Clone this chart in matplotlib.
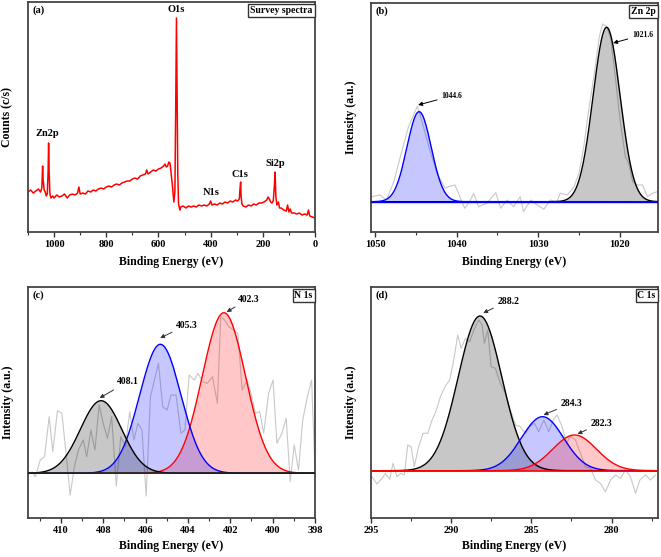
import numpy as np
import matplotlib
matplotlib.use("Agg")
import matplotlib.pyplot as plt
from matplotlib.ticker import MultipleLocator

plt.rcParams["font.family"] = ["Liberation Serif", "DejaVu Serif"]
plt.rcParams["font.weight"] = "bold"

# (a) survey spectrum, binding energy (eV) and counts (arb. units)
survey_be = [1100, 1090, 1080, 1070, 1060, 1052, 1047, 1044, 1042, 1038, 1034, 1030,
             1026, 1023, 1021, 1019, 1016, 1012, 1005, 1000, 990, 980, 970, 960, 950,
             940, 930, 920, 910, 905, 900, 890, 880, 870, 860, 850, 840, 830, 820, 810,
             800, 790, 780, 770, 760, 750, 740, 730, 720, 710, 700, 690, 680, 670, 660,
             650, 645, 640, 630, 620, 610, 600, 590, 580, 575, 570, 565, 560, 556, 552,
             546, 541, 537, 534, 531, 529, 526, 523, 518, 515, 505, 495, 485, 475, 465,
             455, 445, 435, 425, 415, 405, 400, 395, 385, 375, 365, 355, 345, 335, 325,
             315, 305, 297, 290, 287, 285, 283, 280, 275, 265, 255, 245, 235, 225, 215,
             205, 195, 185, 180, 175, 170, 165, 160, 156, 153, 150, 146, 140, 136, 130,
             120, 110, 105, 100, 95, 90, 80, 70, 60, 50, 40, 30, 25, 20, 10, 0]
survey_counts = [40, 42, 39, 41, 43, 40, 44, 66, 52, 42, 40, 36,
                 38, 60, 89, 60, 38, 34, 36, 34, 37, 35, 36, 38, 34,
                 37, 38, 37, 39, 45, 38, 39, 38, 41, 40, 42, 41, 43, 44, 43,
                 45, 46, 45, 47, 48, 47, 49, 50, 51, 51, 53, 54, 53, 56, 57,
                 58, 62, 58, 60, 62, 61, 63, 64, 66, 68, 65, 66, 70, 69, 60,
                 45, 30, 40, 120, 214, 150, 60, 28, 22, 25, 26, 24, 26, 25, 26,
                 25, 27, 26, 27, 26, 28, 31, 27, 28, 27, 29, 28, 30, 29, 31,
                 30, 32, 31, 33, 45, 50, 35, 28, 26, 25, 27, 26, 28, 27, 29,
                 29, 30, 32, 35, 33, 30, 29, 31, 45, 60, 35, 27, 30, 24, 24,
                 22, 21, 27, 20, 23, 19, 19, 18, 19, 17, 18, 17, 22, 16, 15, 14]
survey_labels = ["O1s", "Zn2p", "N1s", "C1s", "Si2p"]
survey_label_be = [531, 1027, 399, 287, 153]
survey_label_y = [222, 99, 39, 57, 68]

# (b) Zn 2p
zn_be = [1050.4, 1049.4, 1048.6, 1047.7, 1046.9, 1045.9, 1044.8, 1043.9, 1043.3, 1042.4,
         1041.4, 1041.0, 1040.2, 1039.6, 1039.0, 1038.3, 1037.9, 1037.3, 1036.3, 1035.2,
         1034.6, 1033.8, 1033.0, 1032.2, 1031.8, 1030.9, 1030.1, 1029.3, 1028.5, 1027.7,
         1027.3, 1026.4, 1025.6, 1025.0, 1024.4, 1023.8, 1023.1, 1022.5, 1022.1, 1021.6,
         1021.1, 1020.5, 1019.9, 1019.3, 1018.9, 1018.4, 1017.8, 1017.2, 1016.6, 1016.0,
         1015.4]
zn_raw = [35.3, 37, 32, 50.3, 75.3, 105.3, 126, 100.3, 82, 58.7,
          43.7, 45.3, 47, 35.3, 23.7, 32, 38.7, 25.3, 28.7, 39.3,
          23.7, 32, 25.3, 35.3, 20.3, 32, 27, 22.7, 32, 30.3,
          38.7, 37, 45.3, 58.7, 85.3, 122, 158.7, 195.3, 208, 205.3,
          193.7, 152, 108.7, 75.3, 68.7, 50.3, 47, 47, 35.3, 38.7,
          40.3]
zn_base = 30.3
zn_centers = [1021.6, 1044.6]
zn_heights = [174.4, 90]
zn_fwhm = [3.9, 3.5]
zn_colors = ["black", "blue"]

# (c) N 1s
n_be = [411.36, 411.2, 410.97, 410.77, 410.55, 410.38, 410.16, 409.95, 409.77, 409.56,
        409.36, 409.17, 408.94, 408.78, 408.58, 408.39, 408.19, 408.0, 407.8, 407.6,
        407.38, 407.17, 406.95, 406.75, 406.55, 406.36, 406.17, 405.97, 405.77, 405.58,
        405.39, 405.19, 404.98, 404.8, 404.56, 404.33, 404.14, 403.94, 403.7, 403.52,
        403.31, 403.08, 402.84, 402.61, 402.45, 402.27, 402.06, 401.86, 401.64, 401.44,
        401.2, 401.02, 400.81, 400.61, 400.42, 400.19, 399.98, 399.8, 399.56, 399.36,
        399.17, 398.98, 398.78, 398.58, 398.36, 398.16, 398.0]
n_raw = [46.3, 41.3, 58, 61.3, 101.3, 66.3, 107.3, 104.7, 68, 23,
         51.3, 68, 78, 61.3, 88, 68, 113, 94.7, 79.7, 101.3,
         32, 81.3, 71.3, 106.3, 78, 94.7, 88, 22, 121.3, 138,
         154.7, 111.3, 108, 123, 123, 84.7, 88, 143, 138, 144.7,
         136.3, 134.7, 141.3, 114.7, 201.3, 198, 191.3, 188, 184.7, 128,
         138, 124.7, 104.7, 106.3, 84.7, 124.7, 138, 74.7, 84.7, 99.7,
         36.3, 73, 48, 98, 121.3, 138, 48]
n_base = 44.7
n_centers = [402.3, 405.3, 408.1]
n_heights = [160.6, 129, 72.6]
n_fwhm = [2.4, 2.3, 2.3]
n_colors = ["red", "blue", "black"]

# (d) C 1s
c_be = [294.94, 294.63, 294.31, 294.1, 293.83, 293.63, 293.38, 293.13, 292.92, 292.71,
        292.5, 292.3, 292.03, 291.75, 291.46, 291.19, 290.92, 290.67, 290.36, 290.09,
        289.84, 289.59, 289.38, 289.11, 288.84, 288.59, 288.28, 288.07, 287.93, 287.72,
        287.51, 287.24, 286.93, 286.62, 286.3, 285.99, 285.68, 285.37, 285.1, 284.81,
        284.54, 284.22, 283.91, 283.64, 283.39, 283.08, 282.81, 282.56, 282.25, 281.94,
        281.62, 281.31, 281.0, 280.69, 280.38, 280.06, 279.75, 279.44, 279.13, 278.82,
        278.5, 278.23, 277.88, 277.57, 277.26]
c_raw = [41.3, 34, 39.7, 44.7, 38.7, 54.7, 41.3, 44.7, 43, 73,
         71.3, 51.3, 71.3, 84.7, 84.7, 98, 108, 121.3, 132, 138,
         158, 183, 169.7, 179.7, 176.3, 188, 198, 193, 174.7, 188,
         151.3, 149.7, 134.7, 124.7, 108, 93, 91.3, 84.7, 91.3, 94.7,
         86.3, 98, 86.3, 98, 103, 91.3, 74.7, 82, 78, 64.7,
         51.3, 49.7, 38, 34.7, 26.3, 38, 43, 39.7, 48, 41.3,
         24.7, 38, 43, 38, 43]
c_base = 47.3
c_centers = [288.2, 284.3, 282.3]
c_heights = [154.7, 54, 35.7]
c_fwhm = [3.2, 3.1, 3.2]
c_colors = ["black", "blue", "red"]


def gauss(x, center, height, fwhm):
    """
    :param x: array of binding energies
    :return: gaussian peak with the given centre, height and width
    """
    sigma = fwhm / 2.3548
    return height * np.exp(-0.5 * ((x - center) / sigma) ** 2)


def style_axes(ax, xlim, ylim, major, minor, ylabel, tag, box, xlab_y):
    """
    :Does: frame, ticks, labels, panel tag and corner box for one panel
    """
    ax.set_xlim(*xlim)
    ax.set_ylim(*ylim)
    for sp in ax.spines.values():
        sp.set_color("#444444")
        sp.set_linewidth(1.3)
    ax.xaxis.set_major_locator(MultipleLocator(major))
    ax.xaxis.set_minor_locator(MultipleLocator(minor))
    ax.tick_params(axis="x", which="major", direction="out", length=3.5, width=1,
                   labelsize=7.5, pad=2, colors="#333333", labelcolor="black")
    ax.tick_params(axis="x", which="minor", direction="out", length=2, width=0.8,
                   colors="#333333")
    ax.set_yticks([])
    ax.set_xlabel("Binding Energy (eV)", fontsize=8.5, fontweight="bold")
    ax.set_ylabel(ylabel, fontsize=8.5, fontweight="bold")
    ax.xaxis.set_label_coords(0.5, xlab_y)
    ax.yaxis.set_label_coords(-0.05, 0.5)
    ax.text(0.015, 0.985, tag, transform=ax.transAxes, ha="left", va="top",
            fontsize=7.5, fontweight="bold")
    ax.text(0.992, 0.982, box, transform=ax.transAxes, ha="right", va="top",
            fontsize=7, fontweight="bold",
            bbox=dict(boxstyle="square,pad=0.2", fc="white", ec="#333333", lw=1))


def fitted_panel(ax, be, raw, base, centers, heights, fwhm, colors, xlim):
    """
    :Does: draws raw spectrum, shaded gaussian components of the fit
    """
    x = np.linspace(xlim[1], xlim[0], 800)
    ax.plot(be, raw, color="#c8c8c8", lw=0.8, zorder=1)
    for c, h, w, col in zip(centers, heights, fwhm, colors):
        y = base + gauss(x, c, h, w)
        ax.fill_between(x, base, y, color=col, alpha=0.22, lw=0, zorder=2)
        ax.plot(x, y, color=col, lw=1.0, zorder=3)


def annotate(ax, label, tip, text_pos, size, color="black"):
    ax.annotate(label, xy=tip, xytext=text_pos, ha="left", va="center",
                fontsize=size, fontweight="bold",
                arrowprops=dict(arrowstyle="-|>", color=color, lw=0.7,
                                mutation_scale=6, shrinkA=1, shrinkB=0))


def main():
    fig = plt.figure(figsize=(6.61, 5.57), dpi=100)
    w = 287 / 661
    ax_a = fig.add_axes([28 / 661, 1 - 232 / 557, w, 230 / 557])
    ax_b = fig.add_axes([371 / 661, 1 - 232 / 557, w, 229 / 557])
    ax_c = fig.add_axes([28 / 661, 1 - 518 / 557, w, 231 / 557])
    ax_d = fig.add_axes([371 / 661, 1 - 518 / 557, w, 231 / 557])

    # (a) survey
    ax_a.plot(survey_be, survey_counts, color="red", lw=1.1)
    for lab, bx, by in zip(survey_labels, survey_label_be, survey_label_y):
        ax_a.text(bx, by, lab, ha="center", va="center", fontsize=7.5, fontweight="bold")
    style_axes(ax_a, (1100, 0), (0, 230), 200, 100, "Counts (c/s)", "(a)",
               "Survey spectra", -0.105)

    # (b) Zn 2p
    xb = (1050.5, 1015.3)
    fitted_panel(ax_b, zn_be, zn_raw, zn_base, zn_centers, zn_heights, zn_fwhm, zn_colors, xb)
    ax_b.axhline(zn_base, color="blue", lw=1.0, zorder=4)
    annotate(ax_b, "1044.6", (1044.72, 127), (1041.9, 136), 5.5)
    annotate(ax_b, "1021.6", (1020.8, 189), (1018.5, 197), 5.5)
    style_axes(ax_b, xb, (0, 229), 10, 5, "Intensity (a.u.)", "(b)", "Zn 2p", -0.105)

    # (c) N 1s
    xc = (411.55, 398)
    fitted_panel(ax_c, n_be, n_raw, n_base, n_centers, n_heights, n_fwhm, n_colors, xc)
    ax_c.axhline(n_base, color="#222222", lw=1.2, zorder=4)
    annotate(ax_c, "408.1", (408.17, 120), (407.37, 136), 7, "#333333")
    annotate(ax_c, "405.3", (405.31, 180), (404.56, 193), 7, "#333333")
    annotate(ax_c, "402.3", (402.17, 206), (401.66, 219), 7, "#333333")
    style_axes(ax_c, xc, (0, 231), 2, 1, "Intensity (a.u.)", "(c)", "N 1s", -0.097)

    # (d) C 1s
    xd = (295, 277.1)
    fitted_panel(ax_d, c_be, c_raw, c_base, c_centers, c_heights, c_fwhm, c_colors, xd)
    ax_d.axhline(c_base, color="red", lw=1.2, zorder=4)
    annotate(ax_d, "288.2", (288.0, 205), (287.12, 217), 7, "#333333")
    annotate(ax_d, "284.3", (284.24, 103), (283.18, 115), 7, "#333333")
    annotate(ax_d, "282.3", (282.12, 84), (281.31, 95), 7, "#333333")
    style_axes(ax_d, xd, (0, 231), 5, 2.5, "Intensity (a.u.)", "(d)", "C 1s", -0.097)

    fig.savefig("out.png", dpi=100)


if __name__ == "__main__":
    main()
